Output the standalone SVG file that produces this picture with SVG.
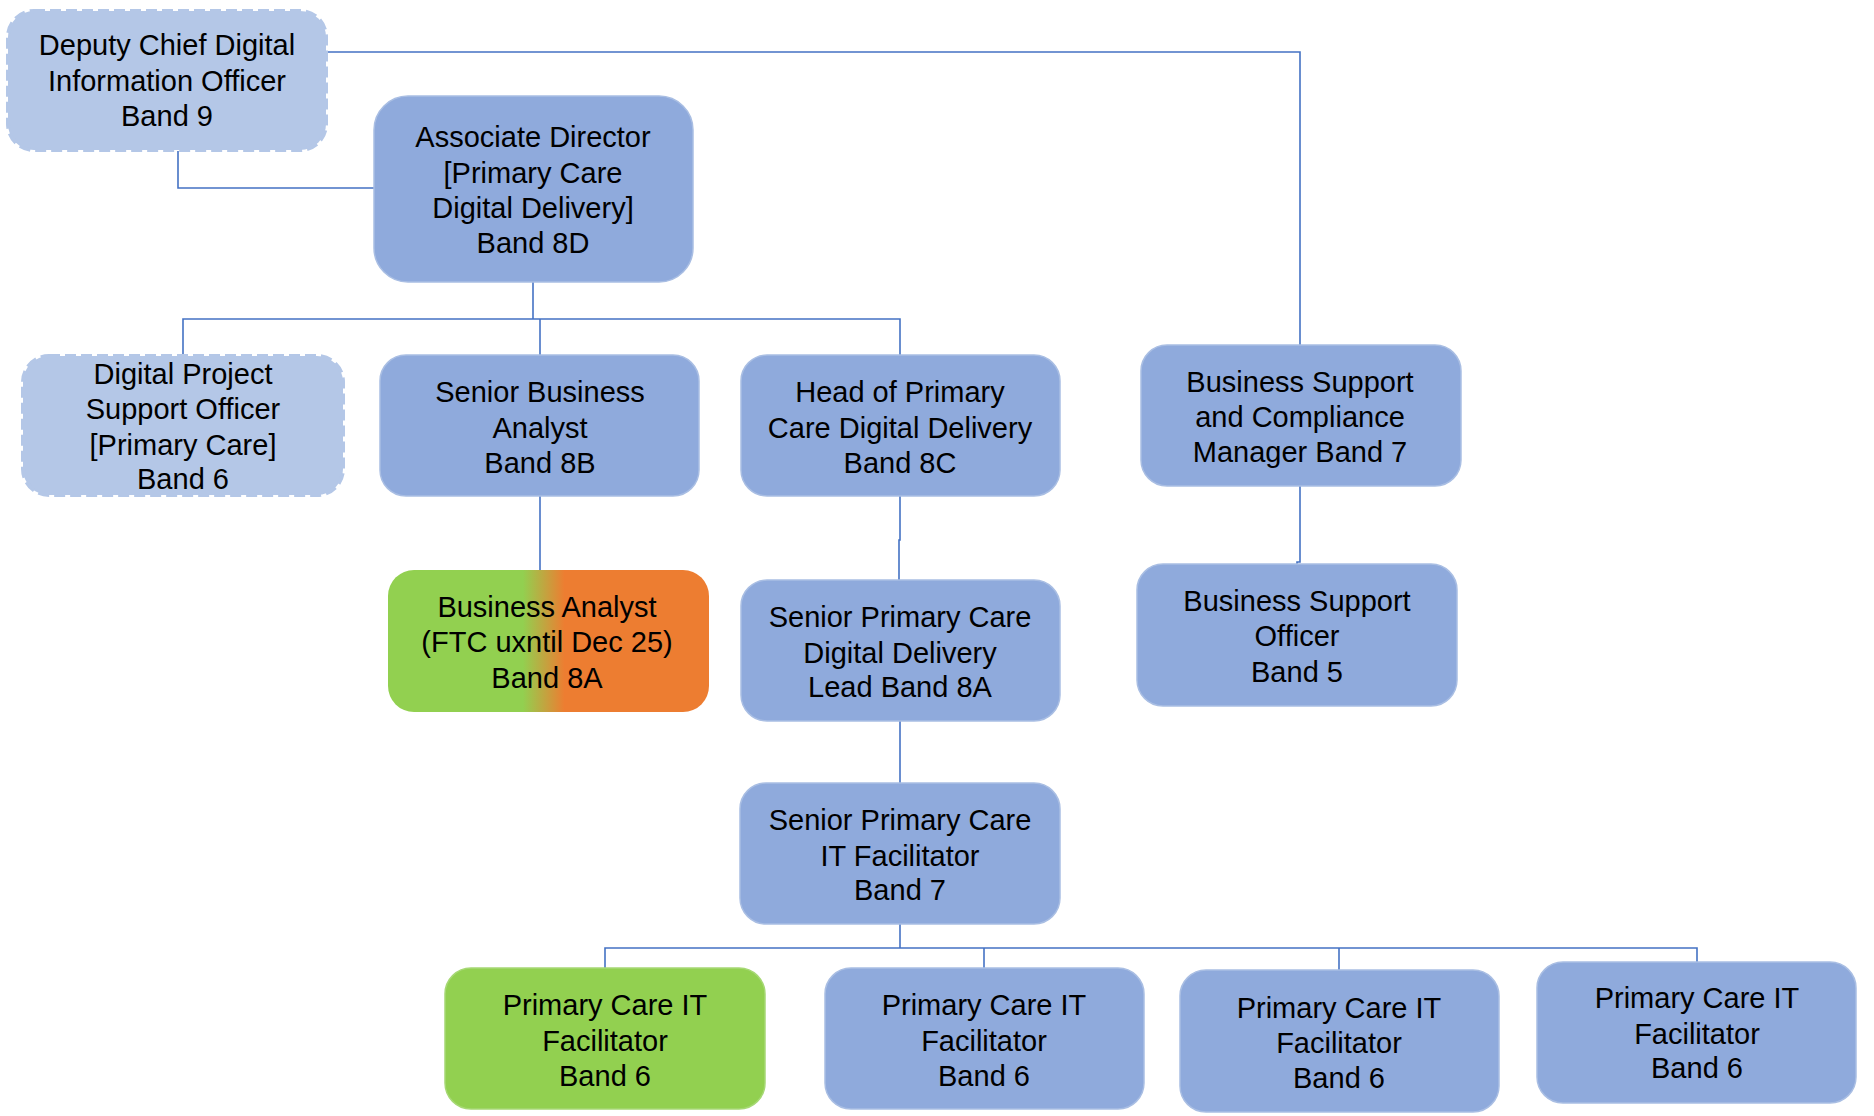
<svg xmlns="http://www.w3.org/2000/svg" width="1874" height="1116" viewBox="0 0 1874 1116">
<defs>
<linearGradient id="ba" x1="0" y1="0" x2="1" y2="0">
<stop offset="0" stop-color="#92D050"/>
<stop offset="0.42" stop-color="#92D050"/>
<stop offset="0.55" stop-color="#ED7D31"/>
<stop offset="1" stop-color="#ED7D31"/>
</linearGradient>
</defs>
<style>
.box{fill:#8FAADC;stroke:#A9BEE3;stroke-width:1.5}
.dash{fill:#B4C7E7;stroke:#B4C7E7;stroke-width:4;stroke-dasharray:11 5}
.green{fill:#92D050;stroke:#A6D874;stroke-width:1.5}
.grad{fill:url(#ba);stroke:none}
text{font-family:"Liberation Sans",Arial,sans-serif;font-size:29px;fill:#000;text-anchor:middle;dominant-baseline:central}
.conn{fill:none;stroke:#4472C4;stroke-width:1.6}
</style>
<rect width="1874" height="1116" fill="#fff"/>
<g id="connectors" class="conn">
<path d="M327 52 H1300 V345"/>
<path d="M178 151 V188 H380"/>
<path d="M533 282 V319"/>
<path d="M183 355 V319 H900 V355"/>
<path d="M540 319 V355"/>
<path d="M540 496 V570"/>
<path d="M900 496 V540 H899 V580"/>
<path d="M1300 486 V562 H1297 V564"/>
<path d="M900 721 V783"/>
<path d="M900 924 V948"/>
<path d="M605 968 V948 H1697 V962"/>
<path d="M984 948 V968"/>
<path d="M1339 948 V970"/>
</g>
<g id="n_deputy">
<rect class="dash" x="8" y="11" width="318" height="139" rx="26"/>
<text x="167" y="45">Deputy Chief Digital</text>
<text x="167" y="81">Information Officer</text>
<text x="167" y="116">Band 9</text>
</g>
<g id="n_assoc">
<rect class="box" x="374" y="96" width="319" height="186" rx="34"/>
<text x="533" y="137">Associate Director</text>
<text x="533" y="173">[Primary Care</text>
<text x="533" y="208">Digital Delivery]</text>
<text x="533" y="243">Band 8D</text>
</g>
<g id="n_dpso">
<rect class="dash" x="23" y="356" width="320" height="139" rx="26"/>
<text x="183" y="374">Digital Project</text>
<text x="183" y="409">Support Officer</text>
<text x="183" y="445">[Primary Care]</text>
<text x="183" y="479">Band 6</text>
</g>
<g id="n_sba">
<rect class="box" x="380" y="355" width="319" height="141" rx="26"/>
<text x="540" y="392">Senior Business</text>
<text x="540" y="428">Analyst</text>
<text x="540" y="463">Band 8B</text>
</g>
<g id="n_head">
<rect class="box" x="741" y="355" width="319" height="141" rx="26"/>
<text x="900" y="392">Head of Primary</text>
<text x="900" y="428">Care Digital Delivery</text>
<text x="900" y="463">Band 8C</text>
</g>
<g id="n_bscm">
<rect class="box" x="1141" y="345" width="320" height="141" rx="26"/>
<text x="1300" y="382">Business Support</text>
<text x="1300" y="417">and Compliance</text>
<text x="1300" y="452">Manager Band 7</text>
</g>
<g id="n_ba">
<rect class="grad" x="388" y="570" width="321" height="142" rx="26"/>
<text x="547" y="607">Business Analyst</text>
<text x="547" y="642">(FTC uxntil Dec 25)</text>
<text x="547" y="678">Band 8A</text>
</g>
<g id="n_spcddl">
<rect class="box" x="741" y="580" width="319" height="141" rx="26"/>
<text x="900" y="617">Senior Primary Care</text>
<text x="900" y="653">Digital Delivery</text>
<text x="900" y="687">Lead Band 8A</text>
</g>
<g id="n_bso">
<rect class="box" x="1137" y="564" width="320" height="142" rx="26"/>
<text x="1297" y="601">Business Support</text>
<text x="1297" y="636">Officer</text>
<text x="1297" y="672">Band 5</text>
</g>
<g id="n_spcitf">
<rect class="box" x="740" y="783" width="320" height="141" rx="26"/>
<text x="900" y="820">Senior Primary Care</text>
<text x="900" y="856">IT Facilitator</text>
<text x="900" y="890">Band 7</text>
</g>
<g id="n_pcitf1">
<rect class="green" x="445" y="968" width="320" height="141" rx="26"/>
<text x="605" y="1005">Primary Care IT</text>
<text x="605" y="1041">Facilitator</text>
<text x="605" y="1076">Band 6</text>
</g>
<g id="n_pcitf2">
<rect class="box" x="825" y="968" width="319" height="141" rx="26"/>
<text x="984" y="1005">Primary Care IT</text>
<text x="984" y="1041">Facilitator</text>
<text x="984" y="1076">Band 6</text>
</g>
<g id="n_pcitf3">
<rect class="box" x="1180" y="970" width="319" height="142" rx="26"/>
<text x="1339" y="1008">Primary Care IT</text>
<text x="1339" y="1043">Facilitator</text>
<text x="1339" y="1078">Band 6</text>
</g>
<g id="n_pcitf4">
<rect class="box" x="1537" y="962" width="319" height="141" rx="26"/>
<text x="1697" y="998">Primary Care IT</text>
<text x="1697" y="1034">Facilitator</text>
<text x="1697" y="1068">Band 6</text>
</g>
</svg>
